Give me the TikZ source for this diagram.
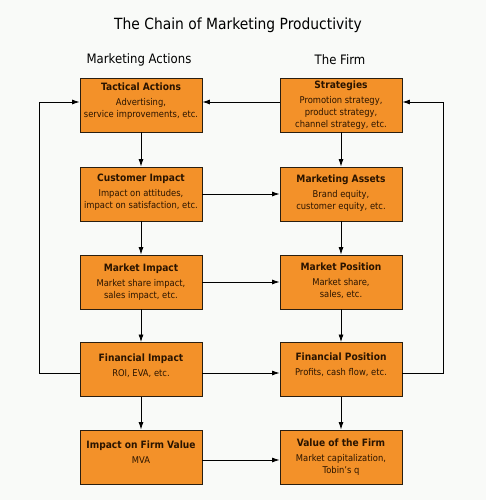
\documentclass[tikz,border=0pt]{standalone}
\usepackage{fontspec}
\setmainfont{DejaVu Sans}[FakeStretch=0.9]
\usetikzlibrary{arrows.meta}
\definecolor{boxfill}{HTML}{F39129}
\definecolor{boxline}{HTML}{2A1E10}
\definecolor{boxtext}{HTML}{2A1400}
\definecolor{bg}{HTML}{F9FAF8}
\tikzset{
  x=1pt, y=1pt,
  box/.style={draw=boxline, fill=boxfill, line width=0.9pt, minimum width=122pt, minimum height=54pt, inner sep=0pt},
  boxtxt/.style={text=boxtext, align=center, inner sep=0pt, font=\fontsize{9.3}{12}\selectfont},
  heading/.style={text=black, inner sep=0pt, font=\fontsize{13}{15}\selectfont},
  arr/.style={draw=black, line width=0.8pt, -{Latex[length=7.5pt,width=5pt]}},
  ln/.style={draw=black, line width=0.8pt}
}
\newcommand{\bt}[1]{{\fontsize{10.1}{12}\selectfont\bfseries #1}\\[3pt]}
\begin{document}
\begin{tikzpicture}
\fill[bg] (0,0) rectangle (486,-500);
\useasboundingbox (0,0) rectangle (486,-500);

\node[text=black, inner sep=0pt, font=\fontsize{15.4}{18}\selectfont] (title) at (238,-25) {The Chain of Marketing Productivity};
\node[heading] (hleft) at (139,-60) {Marketing Actions};
\node[heading] (hright) at (340,-60) {The Firm};

% left column
\node[box] (ta) at (141,-105) {};
\node[boxtxt] (tat) at ([yshift=3.5pt]ta.center) {\bt{Tactical Actions}Advertising,\\service improvements, etc.};
\node[box] (ci) at (141,-194) {};
\node[boxtxt] (cit) at ([yshift=1.5pt]ci.center) {\bt{Customer Impact}Impact on attitudes,\\impact on satisfaction, etc.};
\node[box] (mi) at (141,-282) {};
\node[boxtxt] (mit) at ([yshift=0pt]mi.center) {\bt{Market Impact}Market share impact,\\sales impact, etc.};
\node[box] (fi) at (141,-369.5) {};
\node[boxtxt] (fit) at ([yshift=3.5pt]fi.center) {\bt{Financial Impact}ROI, EVA, etc.};
\node[box] (iv) at (141,-457) {};
\node[boxtxt] (ivt) at ([yshift=4.5pt]iv.center) {\bt{Impact on Firm Value}MVA};

% right column
\node[box] (st) at (341,-105) {};
\node[boxtxt] (stt) at (st.center) {\bt{Strategies}Promotion strategy,\\product strategy,\\channel strategy, etc.};
\node[box] (ma) at (341,-194) {};
\node[boxtxt] (mat) at ([yshift=1pt]ma.center) {\bt{Marketing Assets}Brand equity,\\customer equity, etc.};
\node[box] (mp) at (341,-282) {};
\node[boxtxt] (mpt) at ([yshift=1.5pt]mp.center) {\bt{Market Position}Market share,\\sales, etc.};
\node[box] (fp) at (341,-369.5) {};
\node[boxtxt] (fpt) at ([yshift=4.5pt]fp.center) {\bt{Financial Position}Profits, cash flow, etc.};
\node[box] (vf) at (341,-457) {};
\node[boxtxt] (vft) at (vf.center) {\bt{Value of the Firm}Market capitalization,\\Tobin's q};

% vertical arrows
\draw[arr] (ta) -- (ci);
\draw[arr] (ci) -- (mi);
\draw[arr] (mi) -- (fi);
\draw[arr] (fi) -- (iv);
\draw[arr] (st) -- (ma);
\draw[arr] (ma) -- (mp);
\draw[arr] (mp) -- (fp);
\draw[arr] (fp) -- (vf);

% horizontal arrows
\draw[arr] ([yshift=3pt]st.west) -- ([yshift=3pt]ta.east);
\draw[arr] (ci.east) -- (ma.west);
\draw[arr] (mi.east) -- (mp.west);
\draw[arr] ([yshift=-3.5pt]fi.east) -- ([yshift=-3.5pt]fp.west);
\draw[arr] ([yshift=-3pt]iv.east) -- ([yshift=-3pt]vf.west);

% feedback loops
\coordinate (lf) at (39,0);
\coordinate (rf) at (443,0);
\coordinate (fiw) at ([yshift=-3.5pt]fi.west);
\coordinate (taw) at ([yshift=3pt]ta.west);
\coordinate (fpe) at ([yshift=-3.5pt]fp.east);
\coordinate (ste) at ([yshift=3pt]st.east);
\draw[arr] (fiw) -- (fiw -| lf) -- (lf |- taw) -- (taw);
\draw[arr] (fpe) -- (fpe -| rf) -- (rf |- ste) -- (ste);
\end{tikzpicture}
\end{document}
